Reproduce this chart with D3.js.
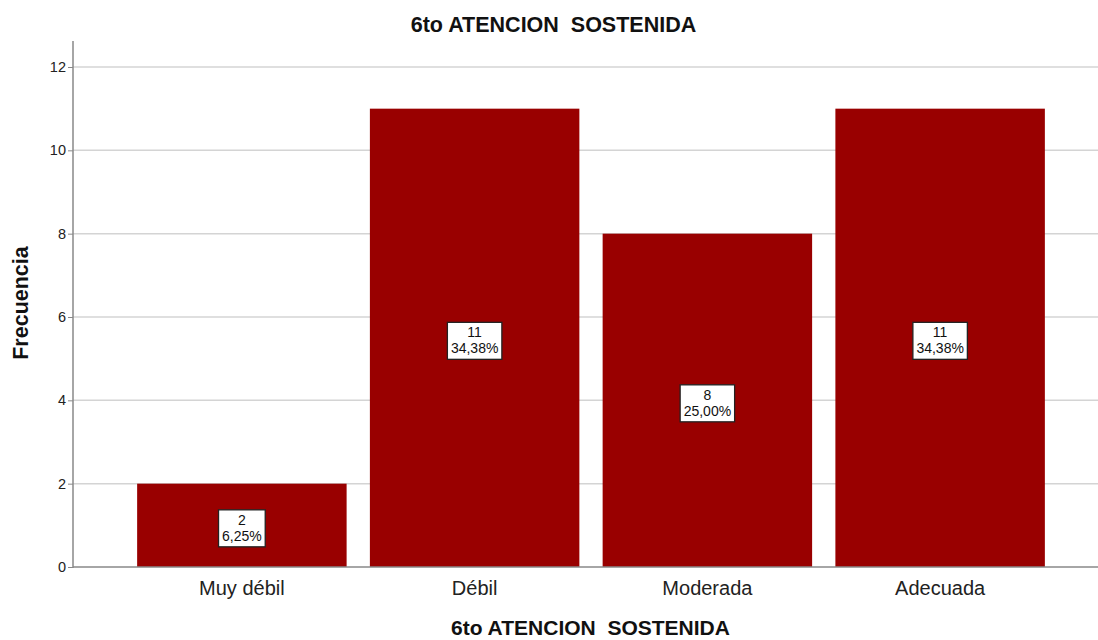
<!DOCTYPE html>
<html><head><meta charset="utf-8">
<script src="https://cdn.jsdelivr.net/npm/d3@7"></script>
<style>body{margin:0;background:#fff}svg{display:block}text{font-family:"Liberation Sans",Arial,sans-serif}</style>
</head><body><svg id="c" width="1098" height="640"></svg>
<script>
const categories = ["Muy débil", "Débil", "Moderada", "Adecuada"];
const counts = [2, 11, 8, 11];
const percents = ["6,25%", "34,38%", "25,00%", "34,38%"];
const yTicks = [0, 2, 4, 6, 8, 10, 12];
const title = "6to ATENCION  SOSTENIDA";
const xTitle = "6to ATENCION  SOSTENIDA";
const yTitle = "Frecuencia";

const svg = d3.select("#c");
const axisX = 73, plotTop = 41, plotRight = 1098;
const x = d3.scaleBand().domain(categories).range([125.5, 1056.5]).paddingInner(0.1).paddingOuter(0.05);
const y = d3.scaleLinear().domain([0, 12]).range([567, 67]);

// gridlines
svg.append("g").selectAll("line").data(yTicks.filter(d => d > 0)).join("line")
  .attr("x1", axisX).attr("x2", plotRight).attr("y1", d => y(d)).attr("y2", d => y(d))
  .attr("stroke", "#d4d4d4").attr("stroke-width", 1.5);

// bars
svg.append("g").selectAll("rect").data(categories).join("rect")
  .attr("x", d => x(d)).attr("width", x.bandwidth())
  .attr("y", (d, i) => y(counts[i])).attr("height", (d, i) => y(0) - y(counts[i]))
  .attr("fill", "#990000");

// y axis
const yAxis = d3.axisLeft(y).tickValues(yTicks).tickSize(5).tickFormat(d3.format("d"));
const gy = svg.append("g").attr("transform", `translate(${axisX},0)`).call(yAxis);
gy.select(".domain").remove();
gy.selectAll(".tick line").attr("stroke", "#888").attr("x2", -5);
gy.selectAll(".tick text").attr("font-size", 14.5).attr("fill", "#222").attr("x", -7).attr("font-family", '"Liberation Sans",Arial,sans-serif');
svg.append("line").attr("x1", axisX).attr("x2", axisX).attr("y1", plotTop).attr("y2", y(0) + 1)
  .attr("stroke", "#888").attr("stroke-width", 1.5);

// x axis
const xAxis = d3.axisBottom(x).tickSize(0).tickPadding(14);
const gx = svg.append("g").attr("transform", `translate(0,${y(0)})`).call(xAxis);
gx.select(".domain").remove();
gx.selectAll(".tick text").attr("font-size", 20).attr("fill", "#222").attr("font-family", '"Liberation Sans",Arial,sans-serif');
svg.append("line").attr("x1", axisX).attr("x2", plotRight).attr("y1", y(0)).attr("y2", y(0))
  .attr("stroke", "#888").attr("stroke-width", 1.5);

// value labels
const lab = svg.append("g").selectAll("g").data(categories).join("g")
  .attr("transform", (d, i) => `translate(${x(d) + x.bandwidth() / 2},${y(counts[i] / 2) + 3})`);
const boxes = lab.append("rect")
  .attr("y", -18.5).attr("height", 37)
  .attr("fill", "#fff").attr("stroke", "#222").attr("stroke-width", 1.3);
lab.append("text").attr("text-anchor", "middle").attr("y", -3.5).attr("font-size", 14).attr("fill", "#111")
  .text((d, i) => counts[i]);
const pct = lab.append("text").attr("text-anchor", "middle").attr("y", 12.5).attr("font-size", 14).attr("fill", "#111")
  .text((d, i) => percents[i]);
pct.each(function(d, i) {
  const w = this.getComputedTextLength() + 7;
  d3.select(boxes.nodes()[i]).attr("x", -w / 2).attr("width", w);
});

// titles
svg.append("text").attr("x", 553.5).attr("y", 32).attr("text-anchor", "middle")
  .attr("font-size", 21.5).attr("font-weight", "bold").style("white-space", "pre").attr("fill", "#111").text(title);
svg.append("text").attr("x", 590.5).attr("y", 635).attr("text-anchor", "middle")
  .attr("font-size", 21).attr("font-weight", "bold").style("white-space", "pre").attr("fill", "#111").text(xTitle);
svg.append("text").attr("transform", "translate(28,303) rotate(-90)").attr("text-anchor", "middle")
  .attr("font-size", 21.5).attr("font-weight", "bold").attr("fill", "#111").text(yTitle);
</script></body></html>
